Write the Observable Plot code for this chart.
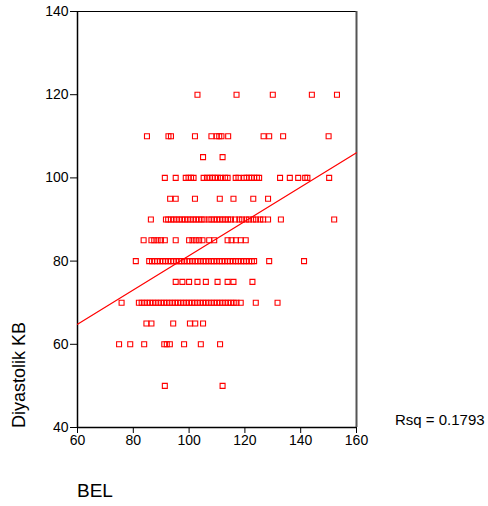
<!DOCTYPE html>
<html>
<head>
<meta charset="utf-8">
<script src="https://cdn.jsdelivr.net/npm/d3@7"></script>
<script src="https://cdn.jsdelivr.net/npm/@observablehq/plot@0.6"></script>
<style>
  html, body { margin: 0; padding: 0; background: #fff; }
  #chart { position: relative; width: 488px; height: 506px; }
</style>
</head>
<body>
<div id="chart"></div>
<script>
// Y levels (Diyastolik KB) and BEL values read at each level
const kbLevels = [120, 110, 105, 100, 95, 90, 85, 80, 75, 70, 65, 60, 50];
const bel120 = [103, 117, 130, 144, 153];
const bel110 = [84.9, 92.6, 93.5, 102.1, 108.0, 109.9, 110.8, 111.6, 114.0, 126.7, 128.7, 133.7, 150.0];
const bel105 = [105.0, 112.0];
const bel100 = [91.3, 95.2, 98.8, 99.8, 100.7, 101.6, 105.2, 106.4, 107.4, 108.4, 109.3, 110.3, 111.4, 112.9, 113.8, 116.7, 117.7, 119.7, 120.6, 121.5, 122.4, 123.3, 124.3, 125.1, 132.6, 136.1, 139.1, 141.6, 142.4, 150.2];
const bel95 = [93.2, 95.2, 102.1, 111.0, 115.9, 123.0, 128.3];
const bel90 = [86.3, 91.7, 92.5, 93.5, 94.5, 95.5, 96.5, 97.5, 98.5, 99.5, 100.5, 101.5, 102.5, 103.5, 104.5, 105.5, 107, 108, 109, 110, 111, 112, 113, 114, 115, 116.5, 118, 119, 120.5, 121.5, 123, 124, 125.5, 126.5, 128.3, 132.9, 152.0];
const bel85 = [83.7, 86.5, 87.5, 88.7, 89.9, 91.3, 95.2, 100.0, 101.2, 102.4, 103.6, 104.8, 107.2, 109.0, 113.8, 115.2, 116.8, 118.5, 120.3];
const bel80 = [80.9, 85.7, 86.7, 87.7, 88.6, 89.6, 90.6, 91.5, 92.5, 93.5, 94.4, 95.4, 96.4, 97.3, 98.3, 99.3, 100.2, 101.2, 102.2, 103.1, 104.1, 105.1, 106, 107, 108, 108.9, 109.9, 110.9, 111.8, 112.8, 113.8, 114.7, 115.7, 116.7, 117.6, 118.6, 119.6, 120.5, 121.5, 122.5, 123.3, 128.7, 141.2];
const bel75 = [95.2, 97.6, 100.0, 103.0, 106.0, 110.2, 113.8, 115.9, 122.7];
const bel70 = [75.8, 82, 83, 84, 85, 86, 87, 88, 89, 90, 91, 92, 93, 94, 95, 96, 97, 98, 99, 100, 101, 102, 103, 104, 105, 106, 107, 108, 109, 110, 111, 112, 113, 114, 115, 116, 117, 118.5, 123.9, 131.7];
const bel65 = [84.7, 86.5, 94.3, 100.3, 102.2, 105.0];
const bel60 = [74.9, 78.9, 83.9, 91.1, 92.0, 93.1, 98.2, 104.2, 111.1];
const bel50 = [91.3, 112.0];
const belByLevel = [bel120, bel110, bel105, bel100, bel95, bel90, bel85, bel80, bel75, bel70, bel65, bel60, bel50];

// Tick labels
const xTicks = [60, 80, 100, 120, 140, 160];
const yTicks = [40, 60, 80, 100, 120, 140];

// Fit line (as shown) and text
const regIntercept = 40.1;
const regSlope = 0.412;
const rsqLabel = "Rsq = 0.1793";
const xLabel = "BEL";
const yLabel = "Diyastolik KB";

const points = [];
kbLevels.forEach((kb, i) => belByLevel[i].forEach(bel => points.push({bel, kb})));
const xDomain = [60, 160];
const fitLine = xDomain.map(x => ({bel: x, kb: regIntercept + regSlope * x}));

const red = "#ff0000";
const plot = Plot.plot({
  width: 488,
  height: 506,
  marginLeft: 77,
  marginRight: 132,
  marginTop: 11,
  marginBottom: 79,
  style: {fontFamily: "'Liberation Sans', Arial, sans-serif", fontSize: "14px", background: "white", color: "black"},
  x: {domain: xDomain, ticks: xTicks, label: null, tickSize: 6, tickPadding: 2},
  y: {domain: [40, 140], ticks: yTicks, label: null, tickSize: 7, tickPadding: 2},
  marks: [
    Plot.ruleY([140], {stroke: "black", strokeWidth: 1}),
    Plot.ruleX([160], {stroke: "#555", strokeWidth: 2}),
    Plot.ruleX([60], {stroke: "black", strokeWidth: 1.5}),
    Plot.ruleY([40], {stroke: "black", strokeWidth: 1.5}),
    Plot.line(fitLine, {x: "bel", y: "kb", stroke: red, strokeWidth: 1.2}),
    Plot.dot(points, {x: "bel", y: "kb", symbol: "square", r: 2.8, stroke: red, fill: "none", strokeWidth: 1.1}),
    Plot.axisX({ticks: xTicks, tickSize: 6, tickPadding: 2, label: null, fontSize: 14}),
    Plot.axisY({ticks: yTicks, tickSize: 7, tickPadding: 2, label: null, fontSize: 14})
  ]
});

const svg = d3.select(plot);
svg.append("text").text(rsqLabel)
  .attr("x", 395).attr("y", 425)
  .attr("text-anchor", "start")
  .attr("font-size", 15).attr("fill", "black");
svg.append("text").text(xLabel)
  .attr("x", 77).attr("y", 497)
  .attr("text-anchor", "start")
  .attr("font-size", 19).attr("fill", "black");
svg.append("text").text(yLabel)
  .attr("transform", "translate(25,428) rotate(-90)")
  .attr("text-anchor", "start")
  .attr("font-size", 18).attr("fill", "black");

document.getElementById("chart").appendChild(plot);
</script>
</body>
</html>
